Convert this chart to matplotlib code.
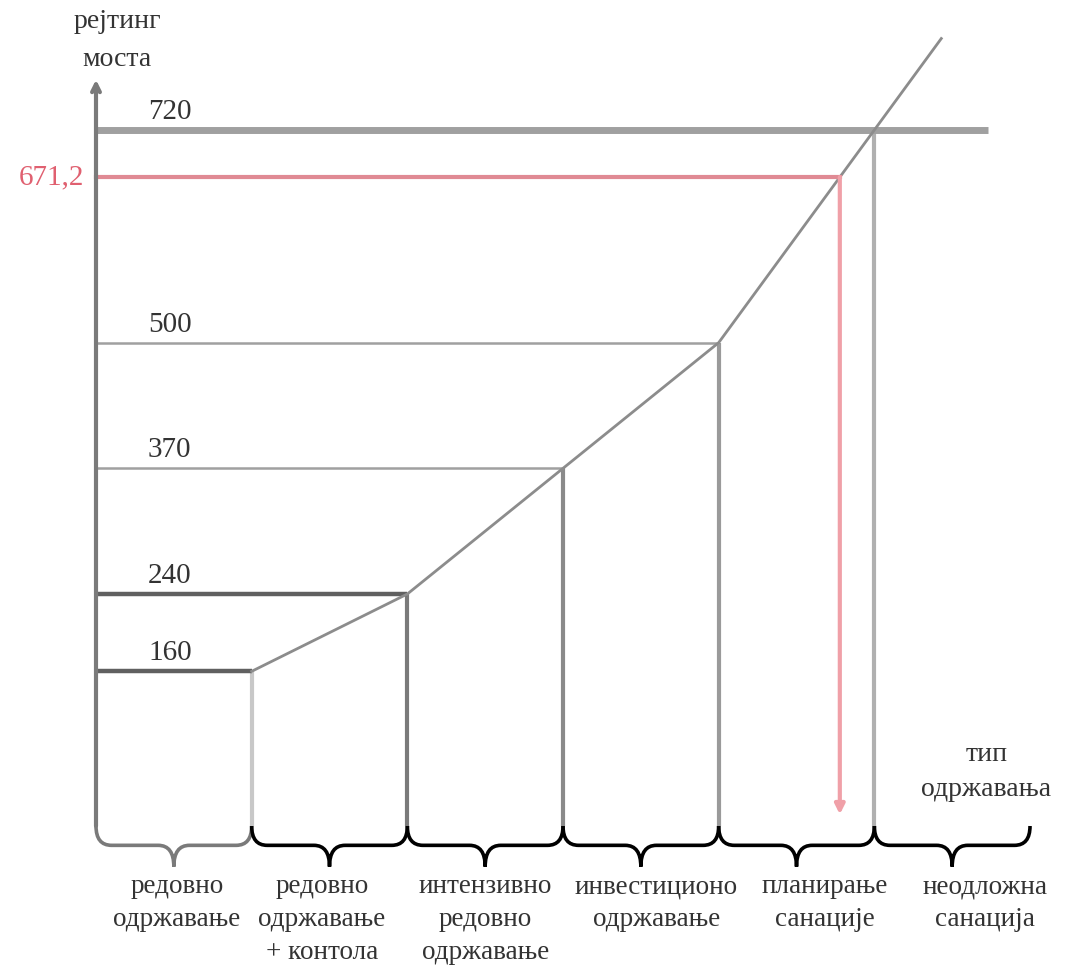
import numpy as np
import matplotlib.pyplot as plt
from matplotlib.path import Path
from matplotlib.patches import PathPatch

plt.rcParams['font.family'] = ['Liberation Serif', 'DejaVu Serif']

# data
ratings = [160, 240, 370, 500, 720]
rating_labels = ['160', '240', '370', '500', '720']
categories = ['редовно\nодржавање',
              'редовно\nодржавање\n+ контола',
              'интензивно\nредовно\nодржавање',
              'инвестиционо\nодржавање',
              'планирање\nсанације',
              'неодложна\nсанација']
red_value = 671.2
red_label = '671,2'

W, H = 1067, 974
fig = plt.figure(figsize=(W / 100, H / 100), dpi=100)
ax = fig.add_axes([0, 0, 1, 1])
ax.axis('off')
# map: boundary k at pixel 96 + 155.67*k, rating 0 at pixel 826, 0.9667 px per unit
ax.set_xlim(-96 / 155.67, (W - 96) / 155.67)
ax.set_ylim(-(H - 826) / 0.9667, 826 / 0.9667)

fs = 21

# vertical lines at category boundaries
vcols = ['#c8c8c8', '#7a7a7a', '#8a8a8a', '#9a9a9a', '#b0b0b0']
for i, r in enumerate(ratings):
    ax.plot([i + 1, i + 1], [0, r], color=vcols[i], lw=3, solid_capstyle='butt')

# horizontal lines
hcols = ['#606060', '#606060', '#a0a0a0', '#a0a0a0', '#a0a0a0']
hlw = [3.2, 3.2, 1.8, 1.8, 5]
for i, r in enumerate(ratings):
    x_end = i + 1 if i < 4 else 5.73
    ax.plot([0, x_end], [r, r], color=hcols[i], lw=hlw[i], solid_capstyle='butt')
    ax.text(0.334, r + 5, rating_labels[i], fontsize=fs, color='#333333',
            ha='left', va='bottom')

# rating curve, extended beyond last point
xs = list(range(1, len(ratings) + 1))
slope = (ratings[-1] - ratings[-2])
x_ext = 5.43
ax.plot(xs + [x_ext], ratings + [ratings[-1] + slope * (x_ext - 5)],
        color='#8c8c8c', lw=2)

# red reading line
x_red = 4 + (red_value - ratings[3]) / (ratings[4] - ratings[3])
ax.plot([0, x_red], [red_value, red_value], color='#e08a94', lw=3)
ax.annotate('', xy=(x_red, 12), xytext=(x_red, red_value),
            arrowprops=dict(arrowstyle='-|>', color='#f0a0a8', lw=3,
                            mutation_scale=14, shrinkA=0, shrinkB=0))
ax.text(-0.075, red_value, red_label, fontsize=fs, color='#e06070',
        ha='right', va='center')

# y axis with arrow
ax.annotate('', xy=(0, 772), xytext=(0, 0),
            arrowprops=dict(arrowstyle='->', color='#7a7a7a', lw=3,
                            mutation_scale=14, shrinkA=0, shrinkB=0))
ax.text(0.135, 845, 'рејтинг\nмоста', fontsize=fs - 1, color='#333333',
        ha='center', va='top', linespacing=1.7)


# braces under each category
def brace(ax, x0, x1, color):
    d1, d2, r = 20, 42, 0.1
    xm = (x0 + x1) / 2
    verts = [(x0, 0), (x0, -d1), (x0 + r, -d1),
             (xm - r, -d1), (xm, -d1), (xm, -d2),
             (xm, -d1), (xm + r, -d1),
             (x1 - r, -d1), (x1, -d1), (x1, 0)]
    codes = [Path.MOVETO, Path.CURVE3, Path.CURVE3,
             Path.LINETO, Path.CURVE3, Path.CURVE3,
             Path.CURVE3, Path.CURVE3,
             Path.LINETO, Path.CURVE3, Path.CURVE3]
    ax.add_patch(PathPatch(Path(verts, codes), fill=False, ec=color, lw=2.6))


label_shift = [0.02, -0.05, 0.0, 0.1, 0.18, 0.21]
for k, label in enumerate(categories):
    brace(ax, k, k + 1, '#7a7a7a' if k == 0 else 'black')
    ax.text(k + 0.5 + label_shift[k], -50, label, fontsize=fs - 1.5,
            color='#333333', ha='center', va='top', linespacing=1.4)

ax.text(5.72, 56, 'тип\nодржавања', fontsize=fs - 1, color='#333333',
        ha='center', va='center', linespacing=1.5)

fig.savefig('out.png', dpi=100)
